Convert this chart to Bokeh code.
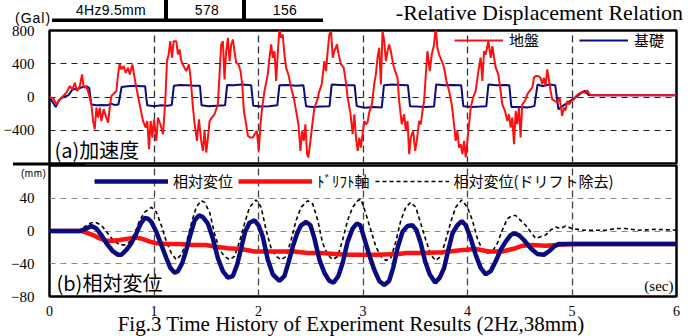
from bokeh.plotting import figure
from bokeh.layouts import column
from bokeh.models import Range1d, FixedTicker, Legend, LegendItem, Div
from bokeh.core.properties import value
from bokeh.embed import file_html
from bokeh.resources import INLINE

NARROW = "Liberation Sans Narrow"
JP = "Noto Sans CJK JP"

# ---------------- data ----------------
x_ticks = [0, 1, 2, 3, 4, 5, 6]
x_grid = [1, 2, 3, 4, 5]
acc_ticks = [-400, 0, 400, 800]
acc_grid = [-400, 0, 400]
disp_ticks = [-80, -40, 0, 40]
disp_grid = [-40, 0, 40]
table_cells = ["4Hz9.5mm", "578", "156"]

# ground acceleration (Gal)
t_ground = [0.0, 0.035, 0.067, 0.099, 0.131, 0.162, 0.194, 0.220, 0.242, 0.264,
            0.290, 0.312, 0.328, 0.347, 0.369, 0.385, 0.401, 0.417, 0.433, 0.449,
            0.465, 0.481, 0.497, 0.519, 0.538, 0.561, 0.576, 0.592, 0.608, 0.640,
            0.656, 0.672, 0.688, 0.710, 0.729, 0.752, 0.768, 0.793, 0.809, 0.825,
            0.847, 0.869, 0.895, 0.920, 0.936, 0.952, 0.968, 0.984, 1.000, 1.022,
            1.038, 1.061, 1.086, 1.108, 1.124, 1.140, 1.156, 1.172, 1.188, 1.213,
            1.229, 1.245, 1.261, 1.283, 1.309, 1.334, 1.350, 1.373, 1.389, 1.411,
            1.430, 1.452, 1.468, 1.484, 1.500, 1.516, 1.532, 1.554, 1.579, 1.595,
            1.611, 1.627, 1.643, 1.659, 1.675, 1.691, 1.707, 1.723, 1.739, 1.755,
            1.770, 1.786, 1.809, 1.828, 1.844, 1.860, 1.882, 1.898, 1.923, 1.946,
            1.962, 1.984, 2.003, 2.019, 2.035, 2.057, 2.089, 2.105, 2.121, 2.137,
            2.153, 2.169, 2.184, 2.200, 2.216, 2.232, 2.248, 2.264, 2.286, 2.312,
            2.337, 2.360, 2.382, 2.401, 2.417, 2.433, 2.449, 2.465, 2.477, 2.497,
            2.519, 2.535, 2.560, 2.583, 2.605, 2.630, 2.646, 2.662, 2.678, 2.694,
            2.710, 2.726, 2.751, 2.767, 2.790, 2.815, 2.837, 2.853, 2.879, 2.901,
            2.917, 2.933, 2.949, 2.965, 2.980, 2.996, 3.012, 3.028, 3.043, 3.059,
            3.085, 3.107, 3.123, 3.139, 3.155, 3.171, 3.187, 3.203, 3.219, 3.235,
            3.250, 3.266, 3.289, 3.308, 3.330, 3.346, 3.371, 3.394, 3.410, 3.426,
            3.442, 3.457, 3.480, 3.499, 3.515, 3.537, 3.553, 3.569, 3.585, 3.601,
            3.617, 3.639, 3.658, 3.680, 3.696, 3.712, 3.728, 3.754, 3.776, 3.798,
            3.824, 3.849, 3.871, 3.887, 3.903, 3.919, 3.935, 3.951, 3.967, 3.983,
            3.999, 4.015, 4.031, 4.053, 4.078, 4.104, 4.126, 4.142, 4.158, 4.174,
            4.200, 4.222, 4.238, 4.254, 4.270, 4.295, 4.317, 4.333, 4.359, 4.381,
            4.397, 4.413, 4.429, 4.445, 4.461, 4.476, 4.492, 4.508, 4.524, 4.550,
            4.572, 4.594, 4.620, 4.636, 4.652, 4.677, 4.699, 4.715, 4.731, 4.747,
            4.763, 4.779, 4.795, 4.811, 4.836, 4.859, 4.881, 4.906, 4.922, 4.938,
            4.955, 4.971, 4.996, 5.018, 5.040, 5.066, 5.097, 5.129, 5.145, 5.168,
            5.193, 6.0]
a_ground = [0, -16, -88, -28, 12, 52, 132, 92, 172, 72,
            132, 272, 112, 132, 72, -8, -88, -288, -388, -128,
            -248, -128, -288, -148, -228, -308, -128, 12, 32, 72,
            272, 400, 332, 372, 292, 352, 272, 392, 272, 152,
            12, -128, -288, -368, -288, -628, -288, -488, -268, -528,
            -248, -328, -448, -48, 432, 512, 672, 472, 672, 672,
            512, 572, 432, 372, 312, 392, 232, -128, -328, -528,
            -268, -528, -648, -408, -668, -488, -288, -248, -208, -148,
            -88, 272, 632, 672, 212, 552, 712, 432, 632, 692,
            552, 412, 392, 312, 152, -168, -328, -468, -488, -488,
            -448, -408, -648, -328, -128, 72, 272, 472, 632, 472,
            552, 192, 512, 832, 712, 752, 512, 352, 272, 112,
            -8, -168, -328, -648, -408, -528, -328, -688, -728, -528,
            -288, -128, -48, 72, 152, 432, 312, 552, 752, 792,
            472, 552, 632, 512, 392, 352, 172, -8, -188, -448,
            -208, -488, -648, -488, -608, -448, -288, -328, -308, -188,
            -88, 152, 272, 472, 592, 152, 792, 672, 432, 552,
            632, 552, 392, 312, 232, -48, -328, -208, -408, -288,
            -688, -488, -408, -648, -528, -288, -328, -168, -48, 272,
            552, 312, 512, 632, 832, 592, 512, 432, 352, 192,
            72, -88, -328, -528, -408, -608, -568, -688, -528, -728,
            -528, -328, -128, -8, 72, 312, 472, 192, 552, 512,
            672, 472, 612, 472, 352, 272, 72, -88, -168, -288,
            -208, -368, -248, -568, -168, -328, -128, -488, -88, -48,
            32, 72, 112, 232, 252, 252, 232, 152, 232, 132,
            332, 212, 72, -28, -48, -68, -8, -228, -128, -160,
            -48, -88, -48, -28, 12, 40, 60, 52, 80, 32,
            20, 20]

# foundation acceleration (Gal)
t_found = [0.0, 0.03, 0.06, 0.09, 0.13, 0.18, 0.22, 0.27, 0.32, 0.36,
           0.38, 0.40, 0.45, 0.50, 0.55, 0.59, 0.62, 0.66, 0.69, 0.75,
           0.82, 0.88, 0.915, 0.935, 1.00, 1.07, 1.13, 1.17, 1.19, 1.25,
           1.32, 1.38, 1.44, 1.455, 1.52, 1.60, 1.68, 1.70, 1.76, 1.84,
           1.93, 1.95, 2.02, 2.10, 2.18, 2.20, 2.28, 2.36, 2.43, 2.455,
           2.52, 2.60, 2.68, 2.70, 2.78, 2.86, 2.92, 2.94, 3.02, 3.10,
           3.18, 3.20, 3.28, 3.36, 3.43, 3.45, 3.52, 3.60, 3.68, 3.70,
           3.78, 3.86, 3.94, 3.96, 4.04, 4.12, 4.18, 4.20, 4.28, 4.36,
           4.40, 4.42, 4.50, 4.58, 4.64, 4.67, 4.72, 4.78, 4.84, 4.87,
           4.92, 4.98, 5.05, 5.10, 5.12, 5.16, 5.25, 6.0]
a_found = [0, -60, -120, -40, 0, 20, 90, 100, 120, 125,
           110, -90, -100, -95, -100, -80, -95, -90, 120, 130,
           135, 130, 130, -100, -110, -100, -105, -95, 135, 145,
           140, 135, 135, -100, -110, -105, -100, 145, 140, 150,
           140, -105, -115, -110, -100, 140, 145, 135, 140, -110,
           -120, -115, -110, 150, 145, 140, 140, -110, -130, -120,
           -125, 140, 150, 145, 140, -110, -115, -120, -115, 150,
           140, 145, 140, -110, -120, -115, -110, 150, 140, 145,
           140, -120, -120, -125, -110, 150, 130, 150, 140, -150,
           -100, -50, 10, 60, 75, 25, 20, 20]

# relative displacement (mm)
t_rel = [0.0, 0.13, 0.29, 0.354, 0.401, 0.449, 0.497, 0.545, 0.608, 0.656,
         0.688, 0.736, 0.783, 0.831, 0.873, 0.911, 0.943, 0.975, 1.022, 1.070,
         1.118, 1.156, 1.197, 1.229, 1.271, 1.309, 1.347, 1.389, 1.430, 1.468,
         1.516, 1.563, 1.611, 1.659, 1.707, 1.755, 1.796, 1.834, 1.872, 1.914,
         1.962, 2.000, 2.041, 2.089, 2.137, 2.200, 2.248, 2.286, 2.328, 2.369,
         2.407, 2.455, 2.497, 2.535, 2.583, 2.630, 2.678, 2.720, 2.764, 2.805,
         2.853, 2.901, 2.940, 2.975, 3.012, 3.059, 3.107, 3.155, 3.203, 3.250,
         3.289, 3.330, 3.378, 3.426, 3.473, 3.512, 3.553, 3.594, 3.639, 3.690,
         3.735, 3.776, 3.817, 3.856, 3.903, 3.945, 3.983, 4.031, 4.078, 4.126,
         4.174, 4.222, 4.270, 4.317, 4.365, 4.413, 4.445, 4.492, 4.540, 4.604,
         4.667, 4.731, 4.779, 4.827, 4.875, 6.0]
d_rel = [0, 0, 0, 3, 6, 3, -5, -15, -25, -29,
         -29, -23, -15, -3, 9, 16, 15, 11, -1, -17,
         -33, -45, -51, -49, -39, -23, -5, 13, 19, 17,
         9, -9, -33, -49, -57, -55, -41, -21, -1, 10,
         13, 7, -7, -35, -53, -61, -55, -39, -19, -3,
         7, 11, 7, -9, -35, -51, -61, -63, -55, -39,
         -13, 3, 9, 7, -9, -29, -47, -61, -66, -61,
         -45, -21, -1, 6, 7, 1, -15, -37, -53, -63,
         -57, -45, -23, -3, 7, 12, 7, -9, -29, -45,
         -53, -49, -37, -23, -13, -5, -3, -5, -11, -21,
         -28, -29, -25, -19, -16, -16]

# drift axis (mm)
t_drift = [0.0, 0.30, 0.354, 0.417, 0.481, 0.545, 0.608, 0.672, 0.768, 0.831,
           0.895, 0.959, 1.022, 1.118, 1.245, 1.373, 1.500, 1.579, 1.707, 1.834,
           1.962, 2.089, 2.216, 2.344, 2.471, 2.599, 2.726, 2.853, 2.980, 3.120,
           3.346, 3.410, 3.570, 3.760, 3.887, 3.983, 4.078, 4.206, 4.333, 4.461,
           4.524, 4.620, 4.747, 4.843, 5.000, 6.0]
d_drift = [0, 0, -2, -5, -9, -12, -12, -11, -9, -8,
           -10, -13, -15, -16, -16, -17, -17, -19, -21, -22,
           -25, -25, -25, -25, -27, -27, -28, -29, -29, -29,
           -28, -27, -27, -26, -24, -23, -22, -25, -25, -21,
           -18, -17, -18, -17, -16, -16]

# relative displacement with drift removed (mm)
t_nodrift = [0.0, 0.29, 0.354, 0.401, 0.449, 0.497, 0.545, 0.608, 0.672, 0.720,
             0.768, 0.815, 0.863, 0.911, 0.975, 1.022, 1.070, 1.118, 1.166, 1.213,
             1.261, 1.309, 1.357, 1.404, 1.452, 1.484, 1.532, 1.579, 1.627, 1.675,
             1.723, 1.770, 1.818, 1.866, 1.914, 1.977, 2.025, 2.073, 2.121, 2.169,
             2.216, 2.264, 2.312, 2.360, 2.407, 2.471, 2.519, 2.567, 2.614, 2.662,
             2.710, 2.758, 2.805, 2.853, 2.901, 2.949, 2.980, 3.028, 3.075, 3.123,
             3.171, 3.219, 3.266, 3.314, 3.362, 3.410, 3.457, 3.505, 3.553, 3.601,
             3.649, 3.696, 3.744, 3.792, 3.840, 3.887, 3.945, 3.999, 4.047, 4.094,
             4.142, 4.190, 4.238, 4.286, 4.333, 4.381, 4.429, 4.460, 4.508, 4.556,
             4.604, 4.652, 4.699, 4.747, 4.795, 4.843, 4.890, 4.938, 5.000, 5.100,
             5.200, 5.320, 5.420, 5.510, 5.640, 5.800, 6.0]
d_nodrift = [0, 0, 7, 10, 10, 7, -1, -11, -17, -17,
             -13, -3, 13, 23, 29, 23, 7, -13, -27, -35,
             -29, -15, 9, 29, 37, 35, 23, -3, -23, -31,
             -35, -31, -13, 9, 29, 38, 29, 1, -21, -31,
             -35, -31, -11, 13, 29, 37, 33, 13, -15, -29,
             -35, -31, -11, 13, 29, 37, 39, 21, 1, -19,
             -31, -36, -33, -13, 13, 29, 35, 29, 9, -11,
             -29, -36, -31, -11, 11, 29, 38, 29, 13, -9,
             -23, -27, -25, -15, 1, 15, 19, 19, 13, 7,
             -1, -9, -7, -5, 1, 5, 3, 6, 3, 1,
             1, 1, 3, 3, 1, 2, 1]

# ---------------- layout ----------------
W = 695
xr = Range1d(0, 6)

SERIF_CSS = "font-family:'Liberation Serif',serif;"
NARROW_CSS = "font-family:'Liberation Sans Narrow','Arial Narrow',sans-serif;"

header_svg = (
    '<svg xmlns="http://www.w3.org/2000/svg" width="695" height="182" '
    'style="display:block;overflow:visible">'
    f'<text x="683" y="20" text-anchor="end" style="{SERIF_CSS}font-size:22px;fill:#000">'
    '-Relative Displacement Relation</text>'
    f'<text x="111" y="15" text-anchor="middle" style="{NARROW_CSS}font-size:14px;fill:#000;letter-spacing:0.3px">{table_cells[0]}</text>'
    f'<text x="207" y="15" text-anchor="middle" style="{NARROW_CSS}font-size:14px;fill:#000;letter-spacing:0.3px">{table_cells[1]}</text>'
    f'<text x="285" y="15" text-anchor="middle" style="{NARROW_CSS}font-size:14px;fill:#000;letter-spacing:0.3px">{table_cells[2]}</text>'
    '<rect x="52" y="18.5" width="271" height="3.5" style="fill:#000"/>'
    '<rect x="164" y="0" width="4" height="20" style="fill:#000"/>'
    '<rect x="242" y="0" width="4" height="20" style="fill:#000"/>'
    f'<text x="15" y="23" style="{NARROW_CSS}font-size:14px;fill:#000;letter-spacing:1px">(Gal)</text>'
    '<rect x="13" y="162.5" width="72" height="3" style="fill:#000"/>'
    f'<text x="21" y="176.5" style="{NARROW_CSS}font-size:10px;fill:#000;letter-spacing:0.5px">(mm)</text>'
    '</svg>'
)
head = Div(text=header_svg, width=W, height=23, margin=0, styles={"overflow": "visible"})

footer_svg = (
    '<svg xmlns="http://www.w3.org/2000/svg" width="695" height="18" '
    'style="display:block;overflow:visible">'
    f'<text x="351" y="13" text-anchor="middle" style="{SERIF_CSS}font-size:21px;fill:#000">'
    'Fig.3 Time History of Experiment Results (2Hz,38mm)</text>'
    '</svg>'
)
foot = Div(text=footer_svg, width=W, height=18, margin=0, styles={"overflow": "visible"})


def style(p, ygrid_ticks, yticks, hcolor, vcolor):
    p.outline_line_color = "black"
    p.outline_line_width = 2.5
    p.border_fill_color = None
    p.background_fill_color = "white"
    p.xgrid.ticker = FixedTicker(ticks=x_grid)
    p.xgrid.grid_line_color = vcolor
    p.xgrid.grid_line_dash = "7 4"
    p.xgrid.grid_line_width = 1.3
    p.ygrid.ticker = FixedTicker(ticks=ygrid_ticks)
    p.ygrid.grid_line_color = hcolor
    p.ygrid.grid_line_dash = "6 5"
    p.ygrid.grid_line_width = 1.2
    p.yaxis.ticker = FixedTicker(ticks=yticks)
    p.yaxis.axis_line_color = None
    p.yaxis.major_tick_line_color = None
    p.yaxis.minor_tick_line_color = None
    p.yaxis.major_label_text_font = NARROW
    p.yaxis.major_label_text_font_size = "15px"
    p.yaxis.major_label_text_color = "black"
    p.yaxis.major_label_standoff = 9


# (a) acceleration
p1 = figure(width=W, height=141, x_range=xr, y_range=Range1d(-800, 800),
            output_backend="svg", toolbar_location=None, x_axis_location=None,
            min_border_left=48, min_border_right=19, min_border_top=7, min_border_bottom=1)
style(p1, acc_grid, acc_ticks, "#222222", "#333333")

r_found = p1.line(t_found, a_found, color="#0a0a80", line_width=2)
r_ground = p1.line(t_ground, a_ground, color="#ff1010", line_width=2)

leg1 = Legend(items=[LegendItem(label="地盤", renderers=[r_ground]),
                     LegendItem(label="基礎", renderers=[r_found])],
              orientation="horizontal", location=(405, 113), glyph_width=49, glyph_height=20,
              label_height=20, label_standoff=6, spacing=40, padding=0, margin=0,
              border_line_color=None, background_fill_alpha=0,
              label_text_font=JP, label_text_font_size="15px", label_text_color="black")
p1.add_layout(leg1)
p1.text(x=[0], y=[-800], text=["(a)加速度"], x_offset=5, y_offset=-14,
        text_font=value(JP), text_font_size="20px", text_baseline="middle",
        text_align="left", text_color="black")

# (b) relative displacement
p2 = figure(width=W, height=154, x_range=xr, y_range=Range1d(-80, 80),
            output_backend="svg", toolbar_location=None,
            min_border_left=48, min_border_right=19, min_border_top=1, min_border_bottom=20)
style(p2, disp_grid, disp_ticks, "#8a8a8a", "#444444")
p2.xaxis.ticker = FixedTicker(ticks=x_ticks)
p2.xaxis.axis_line_color = None
p2.xaxis.major_tick_line_color = None
p2.xaxis.minor_tick_line_color = None
p2.xaxis.major_label_text_font = NARROW
p2.xaxis.major_label_text_font_size = "14px"
p2.xaxis.major_label_text_color = "black"
p2.xaxis.major_label_standoff = 3

r_nodrift = p2.line(t_nodrift, d_nodrift, color="black", line_width=1.6, line_dash="4 3")
r_drift = p2.line(t_drift, d_drift, color="#ff1010", line_width=4.5)
r_rel = p2.line(t_rel, d_rel, color="#0a0a80", line_width=4.5)

leg2 = Legend(items=[LegendItem(label="相対変位", renderers=[r_rel]),
                     LegendItem(label="ﾄﾞﾘﾌﾄ軸", renderers=[r_drift]),
                     LegendItem(label="相対変位(ドリフト除去)", renderers=[r_nodrift])],
              orientation="horizontal", location=(45, 105), glyph_width=74, glyph_height=20,
              label_height=20, label_standoff=5, spacing=5, padding=0, margin=0,
              border_line_color=None, background_fill_alpha=0,
              label_text_font=JP, label_text_font_size="15px", label_text_color="black")
p2.add_layout(leg2)
p2.text(x=[0], y=[-80], text=["(b)相対変位"], x_offset=7, y_offset=-14,
        text_font=value(JP), text_font_size="20px", text_baseline="middle",
        text_align="left", text_color="black")
p2.text(x=[6], y=[-80], text=["(sec)"], x_offset=-3, y_offset=-11,
        text_font=value(NARROW), text_font_size="15px", text_baseline="middle",
        text_align="right", text_color="black")

layout = column(head, p1, p2, foot, spacing=0)
open("out.html", "w").write(file_html(layout, INLINE))
